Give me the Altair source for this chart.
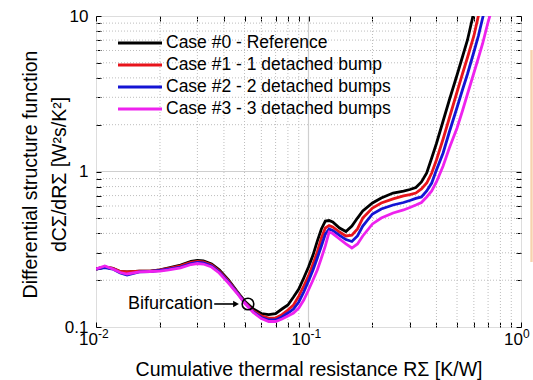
import altair as alt
import pandas as pd

FONT = "Liberation Sans"

# ---------------- data ----------------
x_vals = [0.010, 0.011, 0.012, 0.013, 0.014, 0.016, 0.018, 0.020, 0.022, 0.025,
          0.028, 0.030, 0.032, 0.035, 0.038, 0.042, 0.046, 0.050, 0.055, 0.060,
          0.065, 0.070, 0.075, 0.080, 0.085, 0.090, 0.095, 0.100, 0.105, 0.110,
          0.115, 0.120, 0.125, 0.130, 0.140, 0.150, 0.160, 0.170, 0.180, 0.200,
          0.220, 0.250, 0.280, 0.300, 0.320, 0.340, 0.360, 0.380, 0.400, 0.430,
          0.460, 0.500, 0.530, 0.560, 0.600, 0.630, 0.660, 0.700, 0.750]

case0 = [0.236, 0.243, 0.238, 0.2275, 0.226, 0.229, 0.229, 0.233, 0.240, 0.2505,
         0.264, 0.268, 0.266, 0.254, 0.233, 0.201, 0.170, 0.147, 0.1305, 0.122,
         0.120, 0.122, 0.1305, 0.1385, 0.156, 0.1756, 0.2066, 0.243, 0.290, 0.357,
         0.427, 0.480, 0.484, 0.473, 0.433, 0.411, 0.446, 0.502, 0.557, 0.627,
         0.675, 0.727, 0.749, 0.766, 0.789, 0.856, 0.978, 1.221, 1.514, 2.112,
         2.883, 4.174, 5.448, 7.011, 10.6, 13.5, 17.0, 22.0, 28.0]

case1 = [0.236, 0.243, 0.238, 0.2275, 0.226, 0.229, 0.229, 0.233, 0.238, 0.247,
         0.260, 0.264, 0.262, 0.2505, 0.229, 0.198, 0.168, 0.145, 0.127, 0.118,
         0.114, 0.1143, 0.120, 0.1286, 0.1385, 0.158, 0.1835, 0.213, 0.254, 0.304,
         0.3735, 0.433, 0.449, 0.440, 0.408, 0.385, 0.390, 0.427, 0.502, 0.582,
         0.627, 0.666, 0.696, 0.711, 0.727, 0.772, 0.843, 0.978, 1.186, 1.618,
         2.208, 3.245, 4.236, 5.41, 7.436, 10.0, 12.67, 16.0, 21.0]

case2 = [0.236, 0.2413, 0.236, 0.2225, 0.216, 0.226, 0.2275, 0.231, 0.236, 0.243,
         0.256, 0.260, 0.258, 0.247, 0.226, 0.1947, 0.1667, 0.1438, 0.1249, 0.1151,
         0.1109, 0.1109, 0.116, 0.123, 0.1305, 0.1448, 0.1679, 0.1976, 0.2326, 0.2778,
         0.332, 0.396, 0.427, 0.4175, 0.388, 0.365, 0.3547, 0.385, 0.446, 0.533,
         0.574, 0.609, 0.632, 0.651, 0.671, 0.686, 0.749, 0.843, 1.022, 1.315,
         1.795, 2.580, 3.343, 4.236, 5.869, 7.436, 9.71, 13.6, 18.0]

case3 = [0.236, 0.2468, 0.236, 0.2241, 0.2192, 0.226, 0.2275, 0.229, 0.233, 0.240,
         0.2523, 0.256, 0.254, 0.243, 0.2225, 0.1919, 0.1654, 0.1427, 0.1239, 0.1134,
         0.1085, 0.1085, 0.1126, 0.1177, 0.123, 0.1325, 0.1491, 0.1729, 0.2006, 0.2326,
         0.2778, 0.332, 0.408, 0.399, 0.368, 0.342, 0.322, 0.342, 0.385, 0.460,
         0.502, 0.541, 0.566, 0.587, 0.609, 0.632, 0.686, 0.749, 0.856, 1.085,
         1.416, 1.905, 2.449, 3.151, 4.30, 5.37, 6.656, 9.15, 12.67]

series_names = ["Case #0 - Reference", "Case #1 - 1 detached bump",
                "Case #2 - 2 detached bumps", "Case #3 - 3 detached bumps"]
series_colors = ["#000000", "#e8141c", "#1414d4", "#ee22ee"]

x_ticks = [0.01, 0.02, 0.03, 0.04, 0.05, 0.06, 0.07, 0.08, 0.09,
           0.1, 0.2, 0.3, 0.4, 0.5, 0.6, 0.7, 0.8, 0.9, 1.0]
y_ticks = [0.1, 0.2, 0.3, 0.4, 0.5, 0.6, 0.7, 0.8, 0.9,
           1.0, 2.0, 3.0, 4.0, 5.0, 6.0, 7.0, 8.0, 9.0, 10.0]

x_minor_grid = [0.02, 0.03, 0.04, 0.05, 0.06, 0.07, 0.08, 0.09,
                0.2, 0.3, 0.4, 0.5, 0.6, 0.7, 0.8, 0.9]
y_minor_grid = [0.2, 0.3, 0.4, 0.5, 0.6, 0.7, 0.8, 0.9,
                2.0, 3.0, 4.0, 5.0, 6.0, 7.0, 8.0, 9.0]
x_major_grid = [0.1]
y_major_grid = [1.0]

# x tick labels: base and exponent (10^-2, 10^-1, 10^0)
xlab_pos = [0.01, 0.1, 1.0]
xlab_base = ["10", "10", "10"]
xlab_exp = ["-2", "-1", "0"]

annot_text = ["Bifurcation"]
annot_text_x = [0.0355]
annot_y = [0.1406]
arrow_x = [0.0360]
arrow_x2 = [0.0452]
arrow_head_x = [0.0456]
circle_x = [0.0519]

# ---------------- tables ----------------
rows = []
for name, ys in zip(series_names, [case0, case1, case2, case3]):
    for xv, yv in zip(x_vals, ys):
        rows.append({"x": xv, "y": yv, "series": name})
df = pd.DataFrame(rows)

legend_df = pd.DataFrame({"series": series_names})
xlab_df = pd.DataFrame({"x": xlab_pos, "base": xlab_base, "exp": xlab_exp})
ann_df = pd.DataFrame({"tx": annot_text_x, "y": annot_y, "label": annot_text,
                       "ax": arrow_x, "ax2": arrow_x2, "hx": arrow_head_x,
                       "cx": circle_x})
gxm_df = pd.DataFrame({"v": x_minor_grid})
gym_df = pd.DataFrame({"v": y_minor_grid})
gxM_df = pd.DataFrame({"v": x_major_grid})
gyM_df = pd.DataFrame({"v": y_major_grid})

xs = alt.Scale(type="log", domain=[0.01, 1], nice=False)
ys = alt.Scale(type="log", domain=[0.1, 10], nice=False)
cs = alt.Scale(domain=series_names, range=series_colors)

ax_bottom = alt.Axis(
    values=x_ticks, labels=False,
    offset=-5, tickSize=5, tickColor="black", tickWidth=1, domain=False, grid=False,
    title="Cumulative thermal resistance RΣ [K/W]",
    titleFont=FONT, titleFontSize=19.5, titleFontWeight="normal", titleColor="black",
    titleBaseline="alphabetic", titleY=53,
)
ax_left = alt.Axis(
    values=y_ticks,
    labelExpr="datum.value == 0.1 ? '0.1' : datum.value == 1 ? '1' : datum.value == 10 ? '10' : ''",
    offset=-5, tickSize=5, tickColor="black", tickWidth=1, domain=False, grid=False,
    labelPadding=8, labelFontSize=17, labelFont=FONT, labelColor="black",
    labelFlush=False, labelOverlap=False,
    title=["Differential structure function", "dCΣ/dRΣ [W²s/K²]"],
    titleFont=FONT, titleFontSize=19.5, titleFontWeight="normal", titleColor="black",
    titleBaseline="top", titleAlign="center", titleAngle=270,
    titleX=-80, titleY=158, titleLineHeight=29,
)
ax_top = alt.Axis(values=x_ticks, orient="top", offset=-5, tickSize=5, tickColor="black",
                  domain=False, labels=False, grid=False, title=None)
ax_right = alt.Axis(values=y_ticks, orient="right", offset=-5, tickSize=5, tickColor="black",
                    domain=False, labels=False, grid=False, title=None)

# grid lines drawn from the tick arrays
grid_xm = alt.Chart(gxm_df).mark_rule(color="#bdbdbd", strokeWidth=1, strokeDash=[1, 2]).encode(
    x=alt.X("v:Q", scale=xs, axis=None))
grid_ym = alt.Chart(gym_df).mark_rule(color="#bdbdbd", strokeWidth=1, strokeDash=[1, 2]).encode(
    y=alt.Y("v:Q", scale=ys, axis=None))
grid_xM = alt.Chart(gxM_df).mark_rule(color="#cfcfcf", strokeWidth=1.2).encode(
    x=alt.X("v:Q", scale=xs, axis=None))
grid_yM = alt.Chart(gyM_df).mark_rule(color="#cfcfcf", strokeWidth=1.2).encode(
    y=alt.Y("v:Q", scale=ys, axis=None))

lines = alt.Chart(df).mark_line(strokeWidth=2.8, clip=True).encode(
    x=alt.X("x:Q", scale=xs, axis=ax_bottom),
    y=alt.Y("y:Q", scale=ys, axis=ax_left),
    color=alt.Color("series:N", scale=cs, legend=None),
)

mirror = alt.Chart(df).mark_point(opacity=0).encode(
    x=alt.X("x:Q", scale=xs, axis=ax_top),
    y=alt.Y("y:Q", scale=ys, axis=ax_right),
)

# x tick labels with raised exponents
xlab_base_mark = alt.Chart(xlab_df).mark_text(
    align="right", baseline="alphabetic", font=FONT, fontSize=17, color="black", dx=2
).encode(x=alt.X("x:Q", scale=xs, axis=None), y=alt.value(329), text="base:N")
xlab_exp_mark = alt.Chart(xlab_df).mark_text(
    align="left", baseline="alphabetic", font=FONT, fontSize=12, color="black", dx=2
).encode(x=alt.X("x:Q", scale=xs, axis=None), y=alt.value(322), text="exp:N")

legend_y = alt.Y("series:N", scale=alt.Scale(type="point", domain=series_names,
                                             range=[27, 93], padding=0), axis=None)
legend_lines = alt.Chart(legend_df).mark_rule(strokeWidth=3).encode(
    x=alt.value(22), x2=alt.value(66), y=legend_y,
    color=alt.Color("series:N", scale=cs, legend=None),
)
legend_text = alt.Chart(legend_df).mark_text(
    align="left", baseline="middle", font=FONT, fontSize=17.5, color="black"
).encode(x=alt.value(70), y=legend_y, text="series:N")

ann_label = alt.Chart(ann_df).mark_text(
    align="right", baseline="middle", font=FONT, fontSize=18, color="black"
).encode(x=alt.X("tx:Q", scale=xs, axis=None), y=alt.Y("y:Q", scale=ys, axis=None), text="label:N")
ann_arrow = alt.Chart(ann_df).mark_rule(strokeWidth=1.6, color="black").encode(
    x=alt.X("ax:Q", scale=xs, axis=None), x2="ax2:Q", y=alt.Y("y:Q", scale=ys, axis=None))
ann_head = alt.Chart(ann_df).mark_point(shape="triangle-right", filled=True, size=45,
                                        color="black", opacity=1).encode(
    x=alt.X("hx:Q", scale=xs, axis=None), y=alt.Y("y:Q", scale=ys, axis=None))
ann_circle = alt.Chart(ann_df).mark_point(shape="circle", filled=False, size=135,
                                          color="black", strokeWidth=1.6, opacity=1).encode(
    x=alt.X("cx:Q", scale=xs, axis=None), y=alt.Y("y:Q", scale=ys, axis=None))

# light orange frame edge visible at the right border of the picture
side_box = alt.Chart(legend_df).mark_rule(color="#f6d2ad", strokeWidth=1.5).encode(
    x=alt.value(435.5), y=alt.value(34), y2=alt.value(246))

chart = alt.layer(
    grid_xm, grid_ym, grid_xM, grid_yM,
    mirror, lines, xlab_base_mark, xlab_exp_mark, ann_label, ann_arrow, ann_head,
    ann_circle, legend_lines, legend_text, side_box
).resolve_scale(y="independent").resolve_axis(x="independent", y="independent").properties(
    width=425, height=311,
    autosize=alt.AutoSizeParams(type="none"),
    padding={"left": 96, "top": 16, "right": 12, "bottom": 53},
    background="white",
).configure_view(stroke="black", strokeWidth=1).configure(font=FONT)

chart.save("out.html", embed_options={"renderer": "svg", "actions": False})
